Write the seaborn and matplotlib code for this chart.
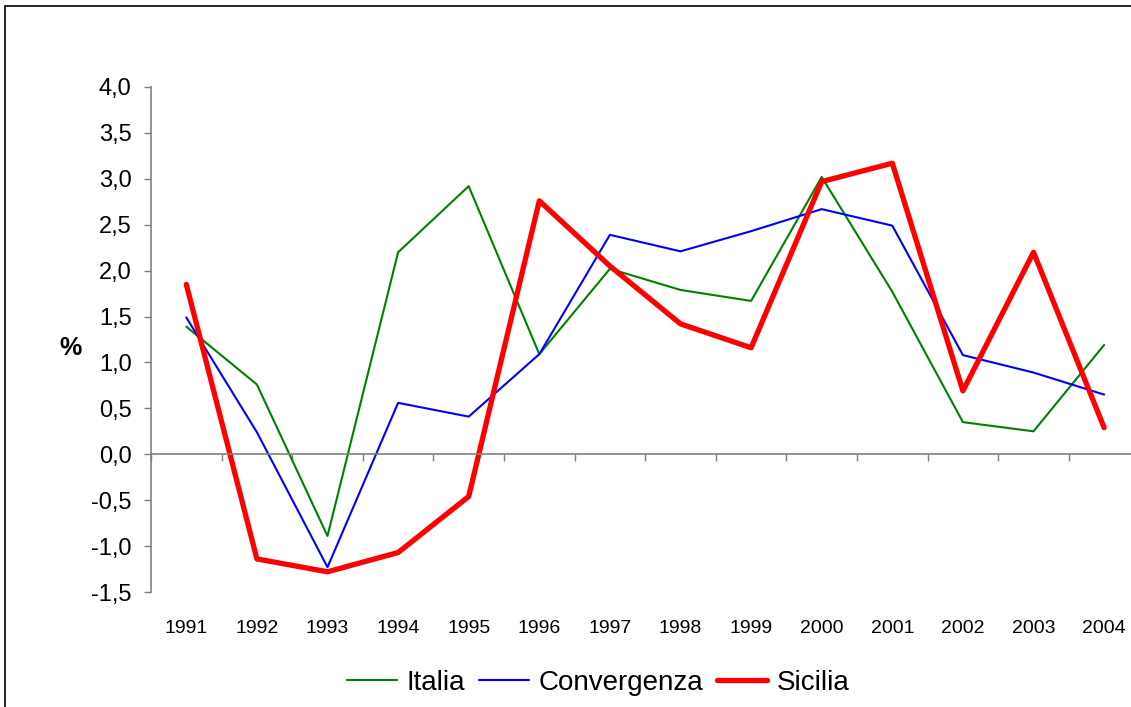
import seaborn as sns
import matplotlib.pyplot as plt
import matplotlib.ticker as mticker
from matplotlib.patches import Rectangle
import pandas as pd

# ----------------------------
# Data
# ----------------------------
years = ['1991', '1992', '1993', '1994', '1995', '1996', '1997',
         '1998', '1999', '2000', '2001', '2002', '2003', '2004']
italia = [1.39, 0.76, -0.89, 2.20, 2.92, 1.09, 2.02,
          1.79, 1.67, 3.02, 1.77, 0.35, 0.25, 1.19]
convergenza = [1.49, 0.24, -1.23, 0.56, 0.41, 1.09, 2.39,
               2.21, 2.43, 2.67, 2.49, 1.08, 0.89, 0.65]
sicilia = [1.85, -1.14, -1.28, -1.07, -0.46, 2.76, 2.05,
           1.42, 1.16, 2.97, 3.17, 0.69, 2.20, 0.29]

series = {'Italia': italia, 'Convergenza': convergenza, 'Sicilia': sicilia}
colors = {'Italia': '#008000', 'Convergenza': '#0000ff', 'Sicilia': '#ff0000'}
widths = {'Italia': 1.5, 'Convergenza': 1.5, 'Sicilia': 3.8}

rows = []
for name, vals in series.items():
    for i, v in enumerate(vals):
        rows.append([name, i, v])
df = pd.DataFrame(rows, columns=['serie', 'pos', 'valore'])

# ----------------------------
# Plot
# ----------------------------
sns.set_style("white")
plt.rcParams['font.family'] = ['Liberation Sans', 'DejaVu Sans']
plt.rcParams['text.color'] = 'black'

fig = plt.figure(figsize=(11.31, 7.07), dpi=100)
ax = fig.add_axes([151 / 1131, 115 / 707, 980 / 1131, 505 / 707])

for name in series:
    sns.lineplot(data=df[df['serie'] == name], x='pos', y='valore',
                 color=colors[name], linewidth=widths[name], label=name, ax=ax)

# y axis
ax.yaxis.set_major_locator(mticker.MultipleLocator(0.5))
ax.yaxis.set_major_formatter(mticker.FuncFormatter(lambda v, p: f"{v:.1f}".replace('.', ',')))
ax.tick_params(axis='y', direction='out', length=5, width=1, color='#808080',
               labelsize=17, pad=9, left=True, labelcolor='black')

# x axis: line at zero, tick marks between categories, labels at the bottom
ax.spines['bottom'].set_position(('data', 0))
ax.set_xticks(range(len(years)))
ax.set_xticklabels(years)
ax.set_xticks([i - 0.5 for i in range(len(years) + 1)], minor=True)
ax.tick_params(axis='x', which='major', length=0, labelsize=14, pad=119,
               labelcolor='black')
ax.tick_params(axis='x', which='minor', direction='out', length=5, width=1,
               color='#808080', bottom=True)

# limits after the ticks (set_xticks would widen the view)
ax.set_xlim(-0.5, -0.5 + 980 / 70.6)
ax.set_ylim(-1.5, 4.0)

for side in ['top', 'right']:
    ax.spines[side].set_visible(False)
for side in ['left', 'bottom']:
    ax.spines[side].set_color('#808080')
    ax.spines[side].set_linewidth(1.2)

ax.set_xlabel('')
ax.set_ylabel('%', fontsize=18, fontweight='bold', rotation=0, labelpad=0,
              color='black')
ax.yaxis.set_label_coords(-0.082, 0.46)

leg = ax.legend(loc='center', bbox_to_anchor=(598 / 1131, 24 / 707),
                bbox_transform=fig.transFigure, ncol=3, frameon=False,
                fontsize=20, handlelength=1.8, handletextpad=0.35,
                columnspacing=0.5)
for t in leg.get_texts():
    t.set_color('black')

# outer border of the chart area
fig.patches.append(Rectangle((5 / 1131, -0.1), 1.2, 1.1 - 6 / 707,
                             transform=fig.transFigure, fill=False,
                             edgecolor='black', linewidth=1.2))

plt.savefig('out.png', dpi=100)
plt.close()
